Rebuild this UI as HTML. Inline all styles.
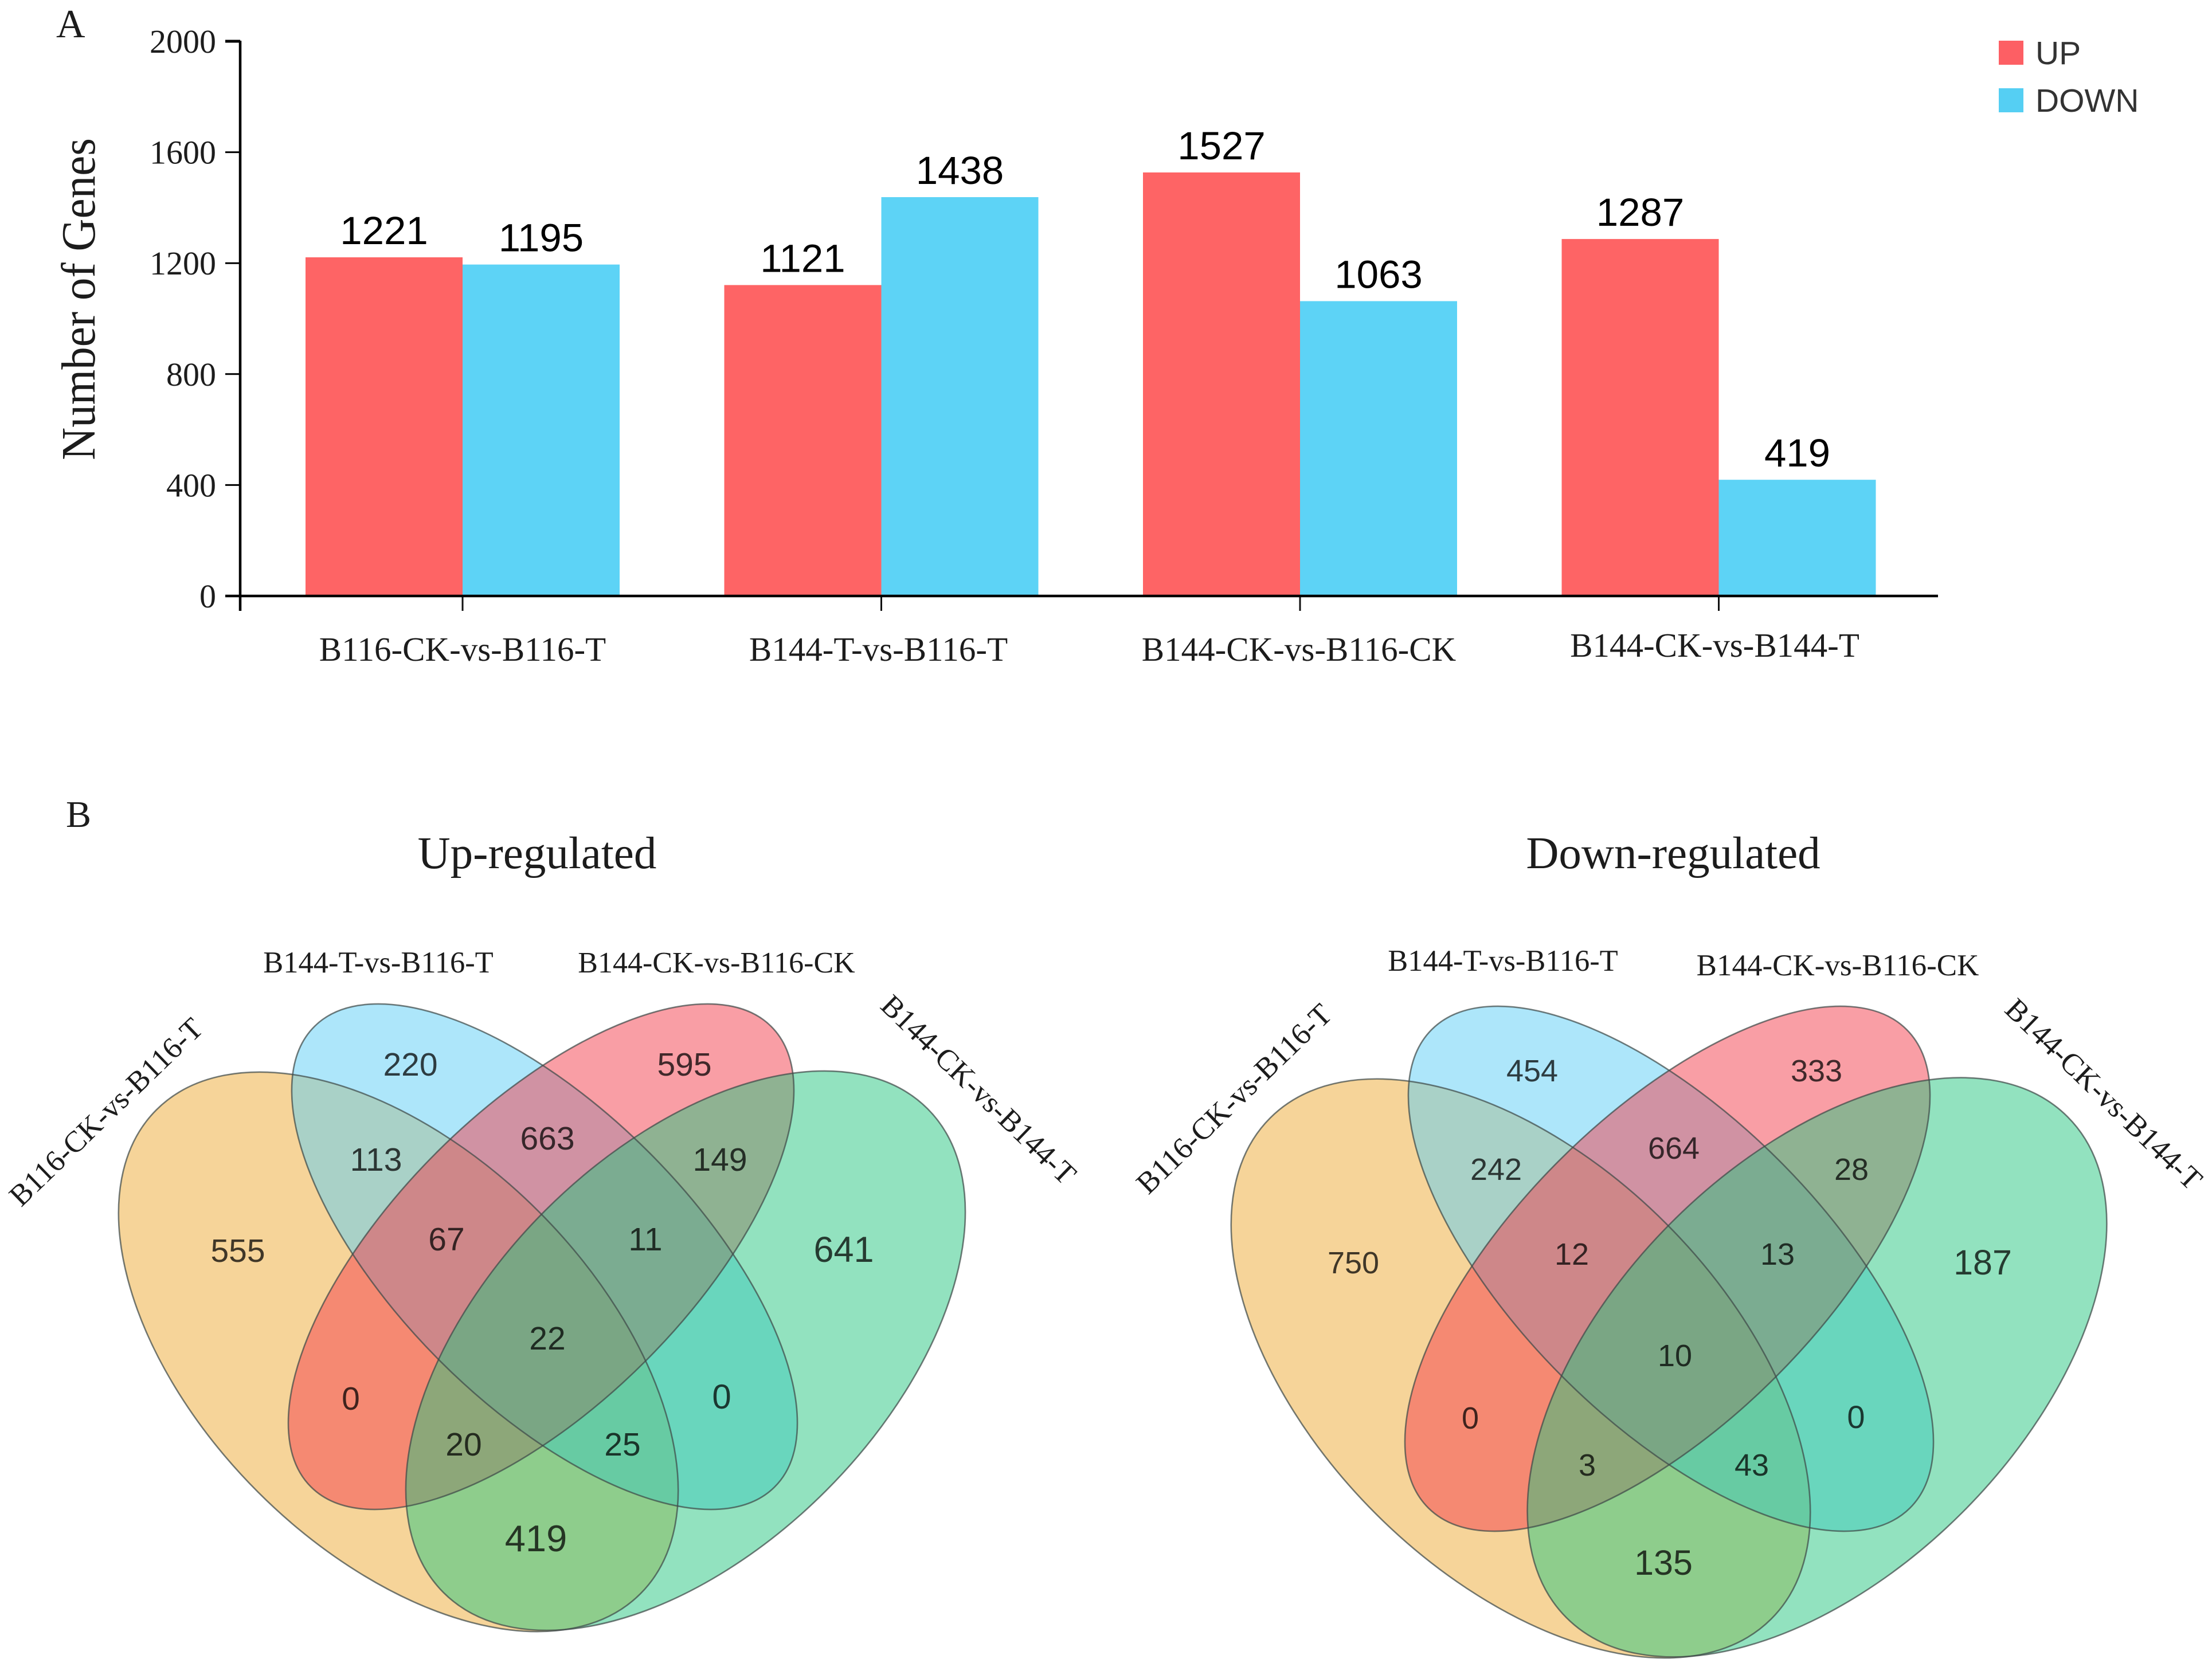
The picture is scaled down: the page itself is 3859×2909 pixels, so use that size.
<!DOCTYPE html>
<html lang="en">
<head>
<meta charset="utf-8">
<title>Differentially expressed genes and Venn diagrams</title>
<style>
  html, body { margin: 0; padding: 0; background: #fff; }
  svg { display: block; }
  .serif { font-family: "Liberation Serif", serif; fill: #1c1c1c; }
  .sans { font-family: "Liberation Sans", sans-serif; }
  .edge { fill: none; stroke: #3f4a48; stroke-opacity: .72; stroke-width: 2.6; }
</style>
</head>
<body>
<svg id="figure" xmlns="http://www.w3.org/2000/svg" width="3859" height="2909" viewBox="0 0 3859 2909">
  <rect width="3859" height="2909" fill="#fff"/>

  <text class="serif" x="98" y="65" font-size="70">A</text>
  <text class="serif" x="115" y="1443" font-size="66">B</text>

  <g id="bar-chart">
    <text class="serif" transform="translate(165 522) rotate(-90)" text-anchor="middle" font-size="84" textLength="562" lengthAdjust="spacingAndGlyphs">Number of Genes</text>
    <g id="bars"></g>
    <g id="axes"></g>
    <g id="bar-values"></g>
  </g>

  <g>
    <rect x="3487" y="71" width="43" height="42" fill="#fd5f64"/>
    <text class="sans" x="3551" y="112" font-size="57" fill="#333">UP</text>
    <rect x="3487" y="154" width="43" height="42" fill="#55cff3"/>
    <text class="sans" x="3551" y="195" font-size="57" fill="#333">DOWN</text>
  </g>

  <g>
    <text class="serif" x="937" y="1515" text-anchor="middle" font-size="79">Up-regulated</text>
    <text class="serif" x="660" y="1697" text-anchor="middle" font-size="52.5">B144-T-vs-B116-T</text>
    <text class="serif" x="1250" y="1697" text-anchor="middle" font-size="52">B144-CK-vs-B116-CK</text>
    <text class="serif" transform="translate(197 1953) rotate(-44)" text-anchor="middle" font-size="52.5">B116-CK-vs-B116-T</text>
    <text class="serif" transform="translate(1695 1914) rotate(44)" text-anchor="middle" font-size="52.5">B144-CK-vs-B144-T</text>
    <path d="M272.8 1936.8A597 346 45 1 0 1117.2 2781.2A597 346 45 1 0 272.8 1936.8Z" fill="#eeaa33" fill-opacity=".5"/>
    <path d="M548.9 1790.9A567 257 45 1 0 1351.1 2595.1A567 257 45 1 0 548.9 1790.9Z" fill="#5ccef5" fill-opacity=".5"/>
    <path d="M542.9 2595.1A567 257 -45 1 0 1345.1 1790.9A567 257 -45 1 0 542.9 2595.1Z" fill="#f33d4b" fill-opacity=".5"/>
    <path d="M773.8 2779.2A597 346 -45 1 0 1618.2 1934.8A597 346 -45 1 0 773.8 2779.2Z" fill="#26c680" fill-opacity=".5"/>
    <path class="edge" d="M272.8 1936.8A597 346 45 1 0 1117.2 2781.2A597 346 45 1 0 272.8 1936.8Z"/>
    <path class="edge" d="M548.9 1790.9A567 257 45 1 0 1351.1 2595.1A567 257 45 1 0 548.9 1790.9Z"/>
    <path class="edge" d="M542.9 2595.1A567 257 -45 1 0 1345.1 1790.9A567 257 -45 1 0 542.9 2595.1Z"/>
    <path class="edge" d="M773.8 2779.2A597 346 -45 1 0 1618.2 1934.8A597 346 -45 1 0 773.8 2779.2Z"/>
    <g id="venn-up-counts"></g>
  </g>

  <g>
    <text class="serif" x="2919" y="1515" text-anchor="middle" font-size="79">Down-regulated</text>
    <text class="serif" x="2622" y="1694" text-anchor="middle" font-size="52.5">B144-T-vs-B116-T</text>
    <text class="serif" x="3206" y="1702" text-anchor="middle" font-size="53">B144-CK-vs-B116-CK</text>
    <text class="serif" transform="translate(2165 1930) rotate(-44)" text-anchor="middle" font-size="53">B116-CK-vs-B116-T</text>
    <text class="serif" transform="translate(3658 1922) rotate(44)" text-anchor="middle" font-size="53">B144-CK-vs-B144-T</text>
    <path d="M2215.9 1950.9A618 358 45 1 0 3090.1 2825.1A618 358 45 1 0 2215.9 1950.9Z" fill="#eeaa33" fill-opacity=".5"/>
    <path d="M2497.7 1796.7A590 267 45 1 0 3332.3 2631.3A590 267 45 1 0 2497.7 1796.7Z" fill="#5ccef5" fill-opacity=".5"/>
    <path d="M2491.7 2631.3A590 267 -45 1 0 3326.3 1796.7A590 267 -45 1 0 2491.7 2631.3Z" fill="#f33d4b" fill-opacity=".5"/>
    <path d="M2732.9 2823.1A618 358 -45 1 0 3607.1 1948.9A618 358 -45 1 0 2732.9 2823.1Z" fill="#26c680" fill-opacity=".5"/>
    <path class="edge" d="M2215.9 1950.9A618 358 45 1 0 3090.1 2825.1A618 358 45 1 0 2215.9 1950.9Z"/>
    <path class="edge" d="M2497.7 1796.7A590 267 45 1 0 3332.3 2631.3A590 267 45 1 0 2497.7 1796.7Z"/>
    <path class="edge" d="M2491.7 2631.3A590 267 -45 1 0 3326.3 1796.7A590 267 -45 1 0 2491.7 2631.3Z"/>
    <path class="edge" d="M2732.9 2823.1A618 358 -45 1 0 3607.1 1948.9A618 358 -45 1 0 2732.9 2823.1Z"/>
    <g id="venn-down-counts"></g>
  </g>
</svg>

<script>
const categories = ['B116-CK-vs-B116-T', 'B144-T-vs-B116-T', 'B144-CK-vs-B116-CK', 'B144-CK-vs-B144-T'];
const upValues = [1221, 1121, 1527, 1287];
const downValues = [1195, 1438, 1063, 419];
const yTicks = [0, 400, 800, 1200, 1600, 2000];
const vennRegions = ['a', 'b', 'ab', 'bc', 'c', 'A', 'abc', 'bcd', 'D', 'abcd', 'ac', 'bd', 'acd', 'abd', 'ad'];
const vennUpCounts = [220, 595, 113, 663, 149, 555, 67, 11, 641, 22, 0, 0, 20, 25, 419];
const vennDownCounts = [454, 333, 242, 664, 28, 750, 12, 13, 187, 10, 0, 0, 3, 43, 135];

const SVG_NS = 'http://www.w3.org/2000/svg';
const plot = { left: 419, right: 3381, baseline: 1040, top: 72, firstCenter: 807, step: 730.5, barWidth: 274 };

function yScale(v) { return plot.baseline - v * (plot.baseline - plot.top) / 2000; }
function xCenter(i) { return plot.firstCenter + i * plot.step; }

function make(tag, attrs, parent, text) {
  const el = document.createElementNS(SVG_NS, tag);
  for (const k in attrs) el.setAttribute(k, attrs[k]);
  if (text !== undefined) el.textContent = text;
  parent.appendChild(el);
  return el;
}

const barsG = document.getElementById('bars');
const axesG = document.getElementById('axes');
const valuesG = document.getElementById('bar-values');

categories.forEach(function (cat, i) {
  const c = xCenter(i);
  const up = make('rect', { x: c - plot.barWidth, y: yScale(upValues[i]), width: plot.barWidth, height: plot.baseline - yScale(upValues[i]), fill: '#fe6465' }, barsG);
  
  
  const down = make('rect', { x: c, y: yScale(downValues[i]), width: plot.barWidth, height: plot.baseline - yScale(downValues[i]), fill: '#5dd3f6' }, barsG);
  
  
  const upText = make('text', { x: c - plot.barWidth / 2, y: yScale(upValues[i]) - 23, 'text-anchor': 'middle', 'font-size': 69, fill: '#000', class: 'sans' }, valuesG, String(upValues[i]));
  
  
  const downText = make('text', { x: c + plot.barWidth / 2, y: yScale(downValues[i]) - 23, 'text-anchor': 'middle', 'font-size': 69, fill: '#000', class: 'sans' }, valuesG, String(downValues[i]));
  
  
  const tick = make('line', { x1: c, x2: c, y1: plot.baseline, y2: 1066, stroke: '#111', 'stroke-width': 3 }, axesG);
  
  
  const label = make('text', { x: c - (i === 0 ? 0 : i === 1 ? 5 : i === 2 ? 2 : 7), y: i === 3 ? 1146 : 1153, 'text-anchor': 'middle', 'font-size': 59, class: 'serif' }, axesG, cat);
  
  
});

const yAxis = make('line', { x1: plot.left, x2: plot.left, y1: plot.top - 1, y2: 1066, stroke: '#000', 'stroke-width': 4.5 }, axesG);


const xAxis = make('line', { x1: 393, x2: plot.right, y1: plot.baseline, y2: plot.baseline, stroke: '#000', 'stroke-width': 4.5 }, axesG);



yTicks.forEach(function (t) {
  const y = yScale(t);
  if (t !== 0) {
    const tick = make('line', { x1: 393, x2: plot.left, y1: y, y2: y, stroke: '#000', 'stroke-width': t === 2000 ? 5 : 3 }, axesG);
    
    
  }
  const label = make('text', { x: 377, y: y + 20, 'text-anchor': 'end', 'font-size': 58, class: 'serif' }, axesG, String(t));
  
  
});

/* Venn region label layout (not data): region name -> anchor in page space */
const upLayout = {
  a: [716, 1877, 57], b: [1194, 1877, 57], ab: [656, 2043, 57], bc: [955, 2006, 57], c: [1256, 2043, 57],
  A: [415, 2202, 57], abc: [779, 2182, 57], bcd: [1126, 2182, 57], D: [1472, 2202, 63], abcd: [955, 2355, 57],
  ac: [612, 2460, 57], bd: [1259, 2458, 60], acd: [809, 2540, 57], abd: [1086, 2540, 57], ad: [935, 2707, 65]
};
const downLayout = {
  a: [2673, 1887, 54], b: [3169, 1887, 54], ab: [2610, 2059, 54], bc: [2920, 2022, 54], c: [3230, 2059, 54],
  A: [2361, 2222, 54], abc: [2742, 2207, 54], bcd: [3101, 2207, 54], D: [3459, 2224, 61], abcd: [2922, 2384, 54],
  ac: [2565, 2493, 54], bd: [3238, 2492, 56], acd: [2769, 2575, 54], abd: [3056, 2575, 54], ad: [2902, 2748, 61]
};

function drawCounts(parentId, counts, layout) {
  const parent = document.getElementById(parentId);
  vennRegions.forEach(function (region, i) {
    const p = layout[region];
    const t = make('text', { x: p[0], y: p[1], 'text-anchor': 'middle', 'font-size': p[2], fill: '#000', 'fill-opacity': .74, class: 'sans' }, parent, String(counts[i]));
    
    
  });
}
drawCounts('venn-up-counts', vennUpCounts, upLayout);
drawCounts('venn-down-counts', vennDownCounts, downLayout);
</script>
</body>
</html>
